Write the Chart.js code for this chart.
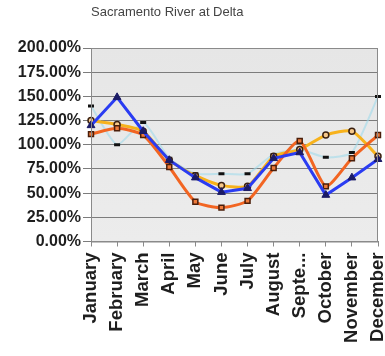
<!DOCTYPE html>
<html>
<head>
<meta charset="utf-8">
<script src="https://cdn.jsdelivr.net/npm/chart.js@4/dist/chart.umd.min.js"></script>
<style>
  html, body { margin: 0; padding: 0; background: #ffffff; }
  #wrap { width: 385px; height: 356px; }
</style>
</head>
<body>
<div id="wrap"><canvas id="c" width="385" height="356"></canvas></div>
<script>
// Monthly flow as a percentage, Sacramento River at Delta
const months = ['January', 'February', 'March', 'April', 'May', 'June',
                'July', 'August', 'September', 'October', 'November', 'December'];
const seriesBlue   = [120, 149, 114, 84, 66, 51, 55, 86, 92, 48, 66, 85];
const seriesOrange = [111, 117, 110, 77, 41, 35, 42, 76, 104, 57, 86, 110];
const seriesGold   = [125, 121, 114, 84, 68, 58, 57, 88, 95, 110, 114, 88];
const seriesCyan   = [140, 100, 123, 86, 70, 70, 70, 90, 95, 87, 92, 150];
const yTicks = [0, 25, 50, 75, 100, 125, 150, 175, 200];

// Plot-area fill and frame
const plotFrame = {
  id: 'plotFrame',
  beforeDraw(chart) {
    const { ctx, chartArea: a } = chart;
    ctx.save();
    const g = ctx.createLinearGradient(0, a.top, 0, a.bottom);
    g.addColorStop(0, '#e6e6e6');
    g.addColorStop(1, '#ececec');
    ctx.fillStyle = g;
    ctx.fillRect(a.left, a.top, a.right - a.left, a.bottom - a.top);
    ctx.restore();
  },
  afterDraw(chart) {
    const { ctx, chartArea: a } = chart;
    ctx.save();
    ctx.strokeStyle = '#8a8a8a';
    ctx.lineWidth = 1;
    ctx.strokeRect(a.left + 0.5, a.top + 0.5, a.right - a.left - 1, a.bottom - a.top);
    ctx.restore();
  }
};

new Chart(document.getElementById('c'), {
  type: 'line',
  data: {
    labels: months,
    datasets: [
      {
        data: seriesBlue, order: 1, tension: 0,
        borderColor: '#2a3cf2', borderWidth: 3,
        pointStyle: 'triangle', pointRadius: 4.5,
        pointBackgroundColor: '#1b1b66', pointBorderColor: '#1b1b66', pointBorderWidth: 1
      },
      {
        data: seriesOrange, order: 2, tension: 0.2,
        borderColor: '#f26522', borderWidth: 3,
        pointStyle: 'rect', pointRadius: 3.5,
        pointBackgroundColor: '#ee7a3a', pointBorderColor: '#4a1e0a', pointBorderWidth: 1.5
      },
      {
        data: seriesGold, order: 3, tension: 0.2,
        borderColor: '#f7b21c', borderWidth: 3,
        pointStyle: 'circle', pointRadius: 3,
        pointBackgroundColor: '#f6c88a', pointBorderColor: '#3a2010', pointBorderWidth: 1.5
      },
      {
        data: seriesCyan, order: 4, tension: 0.2,
        borderColor: 'rgba(160,218,235,0.6)', borderWidth: 2,
        pointStyle: 'line', pointRadius: 3,
        pointBackgroundColor: '#111', pointBorderColor: '#111', pointBorderWidth: 3
      }
    ]
  },
  options: {
    responsive: false,
    animation: false,
    layout: { padding: { left: 0, right: 3, top: 0, bottom: 0 } },
    plugins: {
      legend: { display: false },
      tooltip: { enabled: false },
      title: {
        display: true,
        text: 'Sacramento River at Delta',
        align: 'start',
        fullSize: false,
        color: '#444444',
        font: { family: '"Liberation Sans", Arial, sans-serif', size: 13, weight: 'normal', lineHeight: 1.2 },
        padding: { top: 5, bottom: 27.4 }
      }
    },
    scales: {
      x: {
        type: 'category',
        offset: false,
        grid: { display: true, drawOnChartArea: false, drawTicks: true, tickLength: 5, color: '#8a8a8a' },
        border: { display: true, color: '#8a8a8a' },
        ticks: {
          autoSkip: false,
          minRotation: 90, maxRotation: 90,
          padding: 6,
          color: '#1e1e1e',
          font: { family: '"Liberation Sans", Arial, sans-serif', size: 18.5, weight: 'bold' },
          callback(value) {
            const s = this.getLabelForValue(value);
            return s.length > 8 ? s.slice(0, 5) + '...' : s;
          }
        },
        afterFit(scale) {
          scale.height = 114.5;
          scale.paddingLeft = 0;
          scale.paddingRight = 0;
        }
      },
      y: {
        min: 0, max: 200,
        afterBuildTicks(scale) {
          scale.ticks = yTicks.map(v => ({ value: v }));
        },
        grid: { color: '#7c7c7c', lineWidth: 1, drawTicks: true, tickLength: 8 },
        border: { display: true, color: '#8a8a8a' },
        ticks: {
          padding: 2,
          color: '#1e1e1e',
          font: { family: '"Liberation Sans", Arial, sans-serif', size: 16, weight: 'bold' },
          callback: v => v.toFixed(2) + '%'
        },
        afterFit(scale) {
          scale.width = 91;
        }
      }
    }
  },
  plugins: [plotFrame]
});
</script>
</body>
</html>
